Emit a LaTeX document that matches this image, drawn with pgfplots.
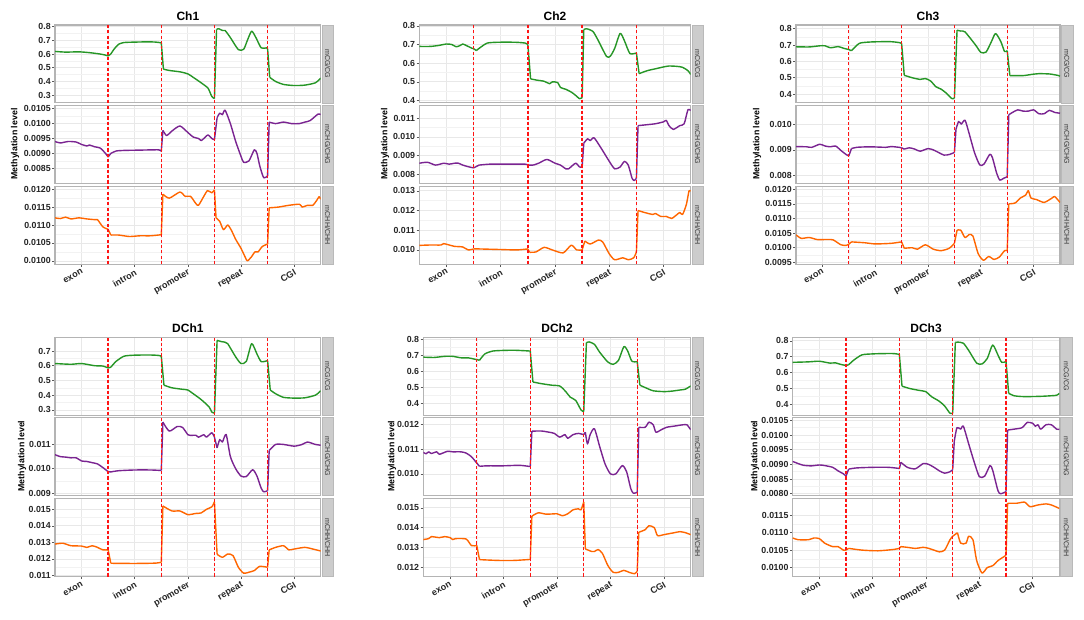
\documentclass[border=0pt]{standalone}
\usepackage{fontspec}
\setmainfont{Liberation Sans}
\usepackage{pgfplots}
\pgfplotsset{compat=1.18}
\definecolor{cg}{RGB}{38,150,38}
\definecolor{chg}{RGB}{122,36,145}
\definecolor{chh}{RGB}{255,102,0}
\definecolor{rd}{RGB}{255,20,20}
\definecolor{stripfill}{RGB}{204,204,204}
\definecolor{stripdraw}{RGB}{185,185,185}
\definecolor{frame}{RGB}{180,180,180}
\tikzset{vl/.style={rd, line width=1pt, dash pattern=on 2.4pt off 1.6pt}}
\pgfplotsset{
 fac/.style={scale only axis, anchor=north west, height=58.35pt,
   xmin=0,xmax=5, xtick={0.5,1.5,2.5,3.5,4.5}, minor xtick={1,2,3,4}, xticklabels={},
   scaled y ticks=false, scaled x ticks=false,
   minor y tick num=1, grid=both,
   major grid style={black!9, line width=0.55pt},
   minor grid style={black!5, line width=0.4pt},
   axis line style={frame, line width=0.9pt},
   tick align=outside, tick pos=left, major tick length=2pt, minor tick length=0pt,
   every tick/.style={black!65, line width=0.5pt},
   yticklabel style={font=\fontsize{6.6}{7}\selectfont\bfseries, text=black!85, inner sep=1pt},
   xtick style={draw=none},
 },
 bot/.style={xticklabels={exon,intron,promoter,repeat,CGI}, xtick style={draw=black!65},
   xticklabel style={rotate=30, anchor=north east, inner sep=1pt, font=\fontsize{6.8}{7}\selectfont\bfseries, text=black!85}},
}
\newcommand{\facet}[9]{%
  \begin{axis}[fac,#1,name=cur,ymin=#2,ymax=#3,ytick={#4},yticklabels={#5}]
    \addplot[#6,line width=1.05pt,line join=round,smooth,tension=0.4,unbounded coords=jump] coordinates {#7};
    \addplot[#6,line width=1.05pt,line join=round,unbounded coords=jump] coordinates {#9};
    \draw[vl] (rel axis cs:0.2,0) -- (rel axis cs:0.2,1);
    \draw[vl] (rel axis cs:0.4,0) -- (rel axis cs:0.4,1);
    \draw[vl] (rel axis cs:0.6,0) -- (rel axis cs:0.6,1);
    \draw[vl] (rel axis cs:0.8,0) -- (rel axis cs:0.8,1);
  \end{axis}
  \filldraw[fill=stripfill,draw=stripdraw,line width=0.4pt] ([xshift=0.9pt]cur.north east) rectangle ([xshift=9.6pt]cur.south east);
  \node[rotate=-90,font=\fontsize{5.3}{6}\selectfont,text=black!80,inner sep=0pt] at ([xshift=5.25pt]cur.east) {#8};
}
\begin{document}
\begin{tikzpicture}
\path[use as bounding box] (0,0) rectangle (813pt,-465pt);
\fill[white] (0,0) rectangle (813pt,-465pt);
% ---------------- Ch1 ----------------
\facet{at={(41.25pt,-18.75pt)},width=199.3pt}{0.244}{0.812}{0.3,0.4,0.5,0.6,0.7,0.8}{0.3,0.4,0.5,0.6,0.7,0.8}{cg}{
(0,0.619)(0.2,0.614)(0.45,0.616)(0.65,0.61)(0.85,0.6)(0.95,0.592)(1.0,0.586)(1.02,nan)
(1.05,0.6)(1.12,0.64)(1.2,0.672)(1.3,0.684)(1.5,0.687)(1.75,0.689)(1.9,0.687)(2.0,0.682)(2.02,nan)
(2.04,0.49)(2.15,0.48)(2.35,0.47)(2.5,0.455)(2.6,0.43)(2.75,0.39)(2.88,0.35)(2.95,0.29)(3.0,0.275)(3.02,nan)
(3.04,0.78)(3.08,0.785)(3.15,0.772)(3.2,0.772)(3.3,0.72)(3.45,0.632)(3.55,0.635)(3.62,0.7)(3.7,0.767)(3.78,0.72)(3.88,0.645)(3.98,0.645)(4.0,0.64)(4.02,nan)
(4.04,0.43)(4.15,0.4)(4.3,0.378)(4.5,0.37)(4.7,0.373)(4.9,0.39)(5.0,0.425)}{mCG/CG}{
(1.0,0.586)(1.05,0.6)(1.5,nan)(2.0,0.682)(2.04,0.49)(2.5,nan)(3.0,0.275)(3.04,0.78)(3.5,nan)(4.0,0.64)(4.04,0.43)}
\facet{at={(41.25pt,-79.28pt)},width=199.3pt}{0.00799}{0.0106}{0.0085,0.009,0.0095,0.01,0.0105}{0.0085,0.0090,0.0095,0.0100,0.0105}{chg}{
(0,0.0094)(0.1,0.00935)(0.25,0.0094)(0.4,0.00938)(0.5,0.0093)(0.6,0.00925)(0.65,0.00928)(0.75,0.00922)(0.85,0.00918)(0.95,0.009)(1.0,0.00888)(1.02,nan)
(1.05,0.009)(1.15,0.00908)(1.3,0.0091)(1.6,0.00911)(1.95,0.00912)(2.0,0.00907)(2.02,nan)
(2.03,0.00977)(2.1,0.0096)(2.2,0.00975)(2.35,0.00992)(2.5,0.0097)(2.6,0.00955)(2.7,0.0095)(2.75,0.00943)(2.8,0.0095)(2.88,0.00962)(2.95,0.0095)(3.0,0.00946)(3.02,nan)
(3.05,0.0102)(3.1,0.01035)(3.15,0.0103)(3.2,0.01045)(3.3,0.01)(3.4,0.0094)(3.5,0.0089)(3.55,0.0087)(3.65,0.00875)(3.75,0.00912)(3.8,0.009)(3.85,0.0086)(3.9,0.0083)(3.93,0.00818)(3.97,0.0082)(4.0,0.00825)(4.02,nan)
(4.03,0.01005)(4.15,0.01)(4.3,0.01005)(4.45,0.01)(4.6,0.01)(4.7,0.01005)(4.8,0.0101)(4.95,0.01032)(5.0,0.0103)}{mCHG/CHG}{
(1.0,0.00888)(1.05,0.009)(1.5,nan)(2.0,0.00907)(2.03,0.00977)(2.5,nan)(3.0,0.00946)(3.05,0.0102)(3.5,nan)(4.0,0.00825)(4.03,0.01005)}
\facet{at={(41.25pt,-139.73pt)},width=199.3pt,bot}{0.00991}{0.01208}{0.01,0.0105,0.011,0.0115,0.012}{0.0100,0.0105,0.0110,0.0115,0.0120}{chh}{
(0,0.0112)(0.1,0.01118)(0.2,0.01122)(0.3,0.01117)(0.45,0.0112)(0.6,0.01117)(0.75,0.01115)(0.8,0.01115)(0.9,0.01095)(1.0,0.01088)(1.02,nan)
(1.05,0.01072)(1.2,0.01072)(1.4,0.01068)(1.6,0.0107)(1.8,0.0107)(2.0,0.01073)(2.02,nan)
(2.03,0.01186)(2.15,0.01175)(2.35,0.01192)(2.45,0.0118)(2.55,0.0118)(2.65,0.0116)(2.7,0.01155)(2.8,0.0118)(2.87,0.01196)(2.95,0.0119)(3.0,0.01198)(3.02,nan)
(3.03,0.0112)(3.1,0.0111)(3.17,0.01087)(3.25,0.011)(3.32,0.01085)(3.4,0.0106)(3.5,0.01035)(3.58,0.0101)(3.62,0.01)(3.7,0.01012)(3.76,0.01025)(3.82,0.01025)(3.9,0.0104)(4.0,0.01047)(4.02,nan)
(4.03,0.01148)(4.2,0.0115)(4.4,0.01155)(4.6,0.01158)(4.65,0.0115)(4.75,0.01155)(4.85,0.01155)(4.93,0.0117)(4.97,0.01179)(5.0,0.01172)}{mCHH/CHH}{
(1.0,0.01088)(1.05,0.01072)(1.5,nan)(2.0,0.01073)(2.03,0.01186)(2.5,nan)(3.0,0.01198)(3.03,0.0112)(3.5,nan)(4.0,0.01047)(4.03,0.01148)}
% ---------------- Ch2 ----------------
\facet{at={(314.5pt,-18.75pt)},width=203.5pt}{0.3876}{0.805}{0.4,0.5,0.6,0.7,0.8}{0.4,0.5,0.6,0.7,0.8}{cg}{
(0,0.69)(0.2,0.69)(0.35,0.695)(0.5,0.703)(0.6,0.7)(0.68,0.688)(0.75,0.695)(0.8,0.703)(0.9,0.69)(0.97,0.68)(1.0,0.678)(1.02,nan)
(1.05,0.668)(1.15,0.69)(1.25,0.708)(1.4,0.712)(1.6,0.713)(1.8,0.712)(1.95,0.708)(2.0,0.7)(2.02,nan)
(2.05,0.516)(2.15,0.51)(2.3,0.503)(2.4,0.49)(2.45,0.5)(2.55,0.496)(2.6,0.47)(2.7,0.46)(2.8,0.445)(2.87,0.43)(2.95,0.41)(3.0,0.415)(3.02,nan)
(3.03,0.78)(3.08,0.785)(3.2,0.77)(3.3,0.72)(3.45,0.636)(3.52,0.638)(3.6,0.68)(3.7,0.76)(3.78,0.72)(3.88,0.652)(4.0,0.655)(4.02,nan)
(4.05,0.544)(4.2,0.56)(4.35,0.57)(4.5,0.58)(4.6,0.585)(4.75,0.583)(4.85,0.578)(4.95,0.56)(5.0,0.54)}{mCG/CG}{
(1.0,0.678)(1.05,0.668)(1.5,nan)(2.0,0.7)(2.05,0.516)(2.5,nan)(3.0,0.415)(3.03,0.78)(3.5,nan)(4.0,0.655)(4.05,0.544)}
\facet{at={(314.5pt,-79.28pt)},width=203.5pt}{0.00752}{0.01166}{0.008,0.009,0.01,0.011}{0.008,0.009,0.010,0.011}{chg}{
(0,0.0086)(0.15,0.00865)(0.3,0.0085)(0.45,0.0086)(0.55,0.00855)(0.65,0.0086)(0.72,0.0086)(0.8,0.0085)(0.92,0.0084)(1.0,0.00835)(1.02,nan)
(1.1,0.0085)(1.3,0.00855)(1.6,0.00855)(1.95,0.00855)(2.0,0.0085)(2.02,nan)
(2.1,0.0085)(2.2,0.0086)(2.35,0.0088)(2.5,0.0086)(2.6,0.0085)(2.7,0.0083)(2.75,0.0083)(2.88,0.0086)(2.95,0.0084)(3.0,0.0084)(3.02,nan)
(3.03,0.00966)(3.1,0.0099)(3.15,0.0098)(3.22,0.00995)(3.35,0.0094)(3.5,0.0087)(3.6,0.0083)(3.7,0.0084)(3.78,0.0087)(3.85,0.0085)(3.92,0.0078)(3.96,0.00768)(4.0,0.0078)(4.02,nan)
(4.03,0.0106)(4.2,0.01065)(4.35,0.0107)(4.5,0.0108)(4.55,0.01088)(4.6,0.0106)(4.68,0.0104)(4.8,0.0106)(4.88,0.0107)(4.95,0.01145)(5.0,0.0114)}{mCHG/CHG}{
(1.0,0.00835)(1.1,0.0085)(1.5,nan)(2.0,0.0085)(2.1,0.0085)(2.5,nan)(3.0,0.0084)(3.03,0.00966)(3.5,nan)(4.0,0.0078)(4.03,0.0106)}
\facet{at={(314.5pt,-139.73pt)},width=203.5pt,bot}{0.00928}{0.01323}{0.01,0.011,0.012,0.013}{0.010,0.011,0.012,0.013}{chh}{
(0,0.01023)(0.2,0.01025)(0.4,0.01025)(0.45,0.01032)(0.55,0.01025)(0.65,0.01018)(0.8,0.01015)(0.9,0.01)(1.0,0.01005)(1.02,nan)
(1.1,0.01005)(1.5,0.01002)(1.8,0.01)(2.0,0.01005)(2.02,nan)
(2.03,0.00988)(2.15,0.0099)(2.3,0.01013)(2.45,0.01)(2.65,0.00985)(2.8,0.01024)(2.9,0.01)(3.0,0.01)(3.02,nan)
(3.05,0.01045)(3.15,0.0103)(3.3,0.0105)(3.38,0.0104)(3.5,0.0098)(3.6,0.0095)(3.75,0.0096)(3.85,0.0095)(3.95,0.0096)(4.0,0.0099)(4.02,nan)
(4.03,0.012)(4.15,0.0119)(4.3,0.0118)(4.35,0.01185)(4.45,0.0117)(4.55,0.0117)(4.65,0.0116)(4.75,0.0118)(4.8,0.0119)(4.85,0.0118)(4.92,0.0123)(4.97,0.013)(5.0,0.01298)}{mCHH/CHH}{
(1.0,0.01005)(1.1,0.01005)(1.5,nan)(2.0,0.01005)(2.03,0.00988)(2.5,nan)(3.0,0.01)(3.05,0.01045)(3.5,nan)(4.0,0.0099)(4.03,0.012)}
% ---------------- Ch3 ----------------
\facet{at={(597pt,-18.75pt)},width=198pt}{0.347}{0.822}{0.4,0.5,0.6,0.7,0.8}{0.4,0.5,0.6,0.7,0.8}{cg}{
(0,0.689)(0.25,0.688)(0.45,0.695)(0.55,0.695)(0.65,0.683)(0.8,0.69)(0.9,0.68)(1.0,0.672)(1.02,nan)
(1.05,0.665)(1.2,0.71)(1.4,0.718)(1.6,0.72)(1.8,0.72)(1.95,0.715)(2.0,0.71)(2.02,nan)
(2.05,0.515)(2.2,0.5)(2.35,0.49)(2.45,0.495)(2.55,0.48)(2.65,0.445)(2.75,0.43)(2.85,0.405)(2.95,0.373)(3.0,0.375)(3.02,nan)
(3.05,0.79)(3.12,0.785)(3.2,0.78)(3.4,0.7)(3.5,0.655)(3.6,0.657)(3.7,0.72)(3.78,0.77)(3.88,0.72)(3.95,0.66)(4.0,0.665)(4.02,nan)
(4.05,0.513)(4.3,0.513)(4.5,0.522)(4.6,0.525)(4.8,0.523)(4.95,0.515)(5.0,0.51)}{mCG/CG}{
(1.0,0.672)(1.05,0.665)(1.5,nan)(2.0,0.71)(2.05,0.515)(2.5,nan)(3.0,0.375)(3.05,0.79)(3.5,nan)(4.0,0.665)(4.05,0.513)}
\facet{at={(597pt,-79.28pt)},width=198pt}{0.0077}{0.01071}{0.008,0.009,0.01}{0.008,0.009,0.010}{chg}{
(0,0.00913)(0.2,0.00912)(0.3,0.0091)(0.45,0.00922)(0.55,0.00915)(0.65,0.00912)(0.75,0.00915)(0.85,0.00898)(0.95,0.00882)(1.0,0.00877)(1.02,nan)
(1.05,0.00905)(1.15,0.0091)(1.4,0.00912)(1.7,0.0091)(1.8,0.00913)(1.95,0.0091)(2.0,0.00908)(2.02,nan)
(2.05,0.00903)(2.15,0.00908)(2.25,0.00903)(2.35,0.00895)(2.5,0.00905)(2.6,0.009)(2.7,0.0089)(2.8,0.0088)(2.9,0.00882)(3.0,0.0089)(3.02,nan)
(3.03,0.0098)(3.08,0.0101)(3.13,0.01)(3.2,0.01015)(3.27,0.0097)(3.38,0.0089)(3.48,0.00842)(3.56,0.00845)(3.67,0.00883)(3.72,0.0087)(3.8,0.0081)(3.86,0.00783)(3.93,0.0079)(4.0,0.00796)(4.02,nan)
(4.03,0.01036)(4.1,0.01045)(4.2,0.01055)(4.3,0.0105)(4.4,0.0105)(4.5,0.01055)(4.6,0.0104)(4.7,0.0104)(4.8,0.01053)(4.9,0.01045)(5.0,0.01042)}{mCHG/CHG}{
(1.0,0.00877)(1.05,0.00905)(1.5,nan)(2.0,0.00908)(2.05,0.00903)(2.5,nan)(3.0,0.0089)(3.03,0.0098)(3.5,nan)(4.0,0.00796)(4.03,0.01036)}
\facet{at={(597pt,-139.73pt)},width=198pt,bot}{0.00944}{0.0121}{0.0095,0.01,0.0105,0.011,0.0115,0.012}{0.0095,0.0100,0.0105,0.0110,0.0115,0.0120}{chh}{
(0,0.01044)(0.1,0.01032)(0.25,0.01035)(0.4,0.01028)(0.55,0.01028)(0.7,0.01027)(0.85,0.0101)(0.95,0.01008)(1.0,0.01012)(1.02,nan)
(1.05,0.0102)(1.3,0.01017)(1.5,0.01013)(1.8,0.01015)(2.0,0.0102)(2.02,nan)
(2.05,0.00998)(2.2,0.01)(2.3,0.00995)(2.45,0.0101)(2.6,0.00995)(2.75,0.0099)(2.9,0.00998)(3.0,0.01015)(3.02,nan)
(3.05,0.0106)(3.12,0.0106)(3.2,0.01035)(3.28,0.01045)(3.35,0.0104)(3.45,0.0098)(3.55,0.00957)(3.65,0.0097)(3.75,0.0096)(3.85,0.00968)(3.95,0.0099)(4.0,0.0099)(4.02,nan)
(4.03,0.0115)(4.15,0.01153)(4.25,0.0117)(4.35,0.0118)(4.4,0.01195)(4.45,0.0117)(4.55,0.01165)(4.7,0.01155)(4.85,0.0117)(4.9,0.01175)(5.0,0.01155)}{mCHH/CHH}{
(1.0,0.01012)(1.05,0.0102)(1.5,nan)(2.0,0.0102)(2.05,0.00998)(2.5,nan)(3.0,0.01015)(3.05,0.0106)(3.5,nan)(4.0,0.0099)(4.03,0.0115)}
% ---------------- DCh1 ----------------
\facet{at={(41.25pt,-253.13pt)},width=199.3pt}{0.263}{0.792}{0.3,0.4,0.5,0.6,0.7}{0.3,0.4,0.5,0.6,0.7}{cg}{
(0,0.615)(0.3,0.61)(0.5,0.615)(0.75,0.6)(0.9,0.598)(1.0,0.585)(1.02,nan)
(1.05,0.59)(1.15,0.63)(1.3,0.665)(1.5,0.672)(1.8,0.673)(1.95,0.67)(2.0,0.665)(2.02,nan)
(2.05,0.468)(2.2,0.45)(2.4,0.44)(2.5,0.435)(2.6,0.41)(2.75,0.37)(2.9,0.32)(2.95,0.285)(3.0,0.278)(3.02,nan)
(3.05,0.773)(3.12,0.765)(3.2,0.76)(3.25,0.75)(3.4,0.66)(3.5,0.615)(3.6,0.63)(3.7,0.75)(3.8,0.68)(3.88,0.628)(4.0,0.635)(4.02,nan)
(4.05,0.435)(4.15,0.41)(4.3,0.385)(4.5,0.38)(4.7,0.382)(4.9,0.4)(5.0,0.43)}{mCG/CG}{
(1.0,0.585)(1.05,0.59)(1.5,nan)(2.0,0.665)(2.05,0.468)(2.5,nan)(3.0,0.278)(3.05,0.773)(3.5,nan)(4.0,0.635)(4.05,0.435)}
\facet{at={(41.25pt,-313.28pt)},width=199.3pt}{0.0089}{0.0121}{0.009,0.01,0.011}{0.009,0.010,0.011}{chg}{
(0,0.01058)(0.1,0.0105)(0.2,0.01048)(0.3,0.01045)(0.4,0.01045)(0.5,0.01032)(0.6,0.0103)(0.7,0.01025)(0.8,0.0102)(0.9,0.01005)(1.0,0.00988)(1.02,nan)
(1.05,0.00987)(1.2,0.00992)(1.5,0.00995)(1.8,0.00995)(2.0,0.00993)(2.02,nan)
(2.03,0.01192)(2.15,0.01155)(2.3,0.01174)(2.4,0.0117)(2.5,0.0114)(2.55,0.01137)(2.65,0.01138)(2.7,0.0113)(2.8,0.0114)(2.85,0.0113)(2.95,0.01148)(3.0,0.0113)(3.02,nan)
(3.05,0.01086)(3.1,0.0112)(3.15,0.0111)(3.22,0.01141)(3.3,0.0105)(3.4,0.01)(3.5,0.0097)(3.6,0.00968)(3.72,0.00996)(3.8,0.0097)(3.88,0.0092)(3.93,0.00905)(4.0,0.0091)(4.02,nan)
(4.03,0.01075)(4.15,0.011)(4.3,0.011)(4.5,0.01093)(4.65,0.011)(4.75,0.0111)(4.9,0.011)(5.0,0.01097)}{mCHG/CHG}{
(1.0,0.00988)(1.05,0.00987)(1.5,nan)(2.0,0.00993)(2.03,0.01192)(2.5,nan)(3.0,0.0113)(3.05,0.01086)(3.5,nan)(4.0,0.0091)(4.03,0.01075)}
\facet{at={(41.25pt,-374.03pt)},width=199.3pt,bot}{0.01094}{0.01564}{0.011,0.012,0.013,0.014,0.015}{0.011,0.012,0.013,0.014,0.015}{chh}{
(0,0.0129)(0.15,0.01295)(0.3,0.0128)(0.5,0.01278)(0.6,0.0127)(0.7,0.0128)(0.8,0.0127)(0.9,0.01255)(1.0,0.01255)(1.02,nan)
(1.05,0.01174)(1.3,0.01173)(1.6,0.01173)(1.9,0.01175)(2.0,0.0118)(2.02,nan)
(2.03,0.0152)(2.2,0.0149)(2.35,0.0149)(2.5,0.01468)(2.65,0.01475)(2.75,0.01478)(2.85,0.015)(2.95,0.01515)(3.0,0.01545)(3.02,nan)
(3.05,0.01228)(3.15,0.0121)(3.25,0.0123)(3.35,0.0122)(3.45,0.0115)(3.55,0.01114)(3.65,0.0112)(3.75,0.0113)(3.85,0.01155)(4.0,0.0115)(4.02,nan)
(4.03,0.01255)(4.15,0.0127)(4.3,0.0128)(4.4,0.01255)(4.5,0.0126)(4.7,0.0127)(4.85,0.0126)(5.0,0.01248)}{mCHH/CHH}{
(1.0,0.01255)(1.05,0.01174)(1.5,nan)(2.0,0.0118)(2.03,0.0152)(2.5,nan)(3.0,0.01545)(3.05,0.01228)(3.5,nan)(4.0,0.0115)(4.03,0.01255)}
% ---------------- DCh2 ----------------
\facet{at={(317.5pt,-253.13pt)},width=200.5pt}{0.327}{0.8125}{0.4,0.5,0.6,0.7,0.8}{0.4,0.5,0.6,0.7,0.8}{cg}{
(0,0.69)(0.2,0.688)(0.4,0.695)(0.55,0.695)(0.7,0.686)(0.85,0.685)(0.95,0.678)(1.0,0.675)(1.02,nan)
(1.05,0.67)(1.15,0.71)(1.3,0.728)(1.5,0.732)(1.7,0.733)(1.9,0.73)(2.0,0.728)(2.02,nan)
(2.05,0.535)(2.2,0.525)(2.4,0.515)(2.55,0.51)(2.65,0.48)(2.75,0.44)(2.85,0.42)(2.95,0.36)(3.0,0.35)(3.02,nan)
(3.05,0.78)(3.1,0.785)(3.2,0.77)(3.3,0.72)(3.45,0.66)(3.55,0.645)(3.65,0.67)(3.75,0.755)(3.82,0.73)(3.9,0.665)(4.0,0.662)(4.02,nan)
(4.05,0.515)(4.15,0.5)(4.3,0.48)(4.5,0.475)(4.65,0.478)(4.8,0.485)(4.9,0.49)(5.0,0.51)}{mCG/CG}{
(1.0,0.675)(1.05,0.67)(1.5,nan)(2.0,0.728)(2.05,0.535)(2.5,nan)(3.0,0.35)(3.05,0.78)(3.5,nan)(4.0,0.662)(4.05,0.515)}
\facet{at={(317.5pt,-313.28pt)},width=200.5pt}{0.00912}{0.01229}{0.01,0.011,0.012}{0.010,0.011,0.012}{chg}{
(0,0.01088)(0.05,0.01082)(0.1,0.0109)(0.15,0.01083)(0.25,0.0109)(0.3,0.0108)(0.45,0.01092)(0.55,0.0109)(0.7,0.0109)(0.8,0.01085)(0.9,0.0107)(1.0,0.01044)(1.02,nan)
(1.05,0.01031)(1.2,0.01033)(1.5,0.01033)(1.8,0.01035)(2.0,0.0103)(2.02,nan)
(2.03,0.01174)(2.2,0.01175)(2.35,0.0117)(2.45,0.01165)(2.55,0.0115)(2.65,0.0116)(2.7,0.01145)(2.8,0.0116)(2.9,0.01165)(3.0,0.0116)(3.02,nan)
(3.03,0.0117)(3.07,0.01122)(3.12,0.0116)(3.2,0.01184)(3.3,0.0111)(3.4,0.0104)(3.5,0.01)(3.6,0.01)(3.72,0.01034)(3.8,0.0101)(3.88,0.0094)(3.93,0.00921)(4.0,0.00925)(4.02,nan)
(4.03,0.0119)(4.15,0.0119)(4.22,0.01211)(4.3,0.012)(4.35,0.0117)(4.45,0.0118)(4.55,0.0119)(4.7,0.01195)(4.85,0.012)(4.93,0.012)(5.0,0.0118)}{mCHG/CHG}{
(1.0,0.01044)(1.05,0.01031)(1.5,nan)(2.0,0.0103)(2.03,0.01174)(2.5,nan)(3.0,0.0116)(3.03,0.0117)(3.5,nan)(4.0,0.00925)(4.03,0.0119)}
\facet{at={(317.5pt,-374.03pt)},width=200.5pt,bot}{0.01154}{0.01546}{0.012,0.013,0.014,0.015}{0.012,0.013,0.014,0.015}{chh}{
(0,0.0134)(0.1,0.01345)(0.15,0.01355)(0.3,0.0135)(0.4,0.01355)(0.5,0.0135)(0.55,0.0134)(0.6,0.01345)(0.8,0.01343)(0.9,0.0131)(1.0,0.0131)(1.02,nan)
(1.05,0.01239)(1.4,0.01235)(1.7,0.01235)(2.0,0.0124)(2.02,nan)
(2.03,0.01458)(2.15,0.01475)(2.3,0.01468)(2.5,0.0147)(2.6,0.0146)(2.7,0.0147)(2.8,0.0149)(2.9,0.01495)(2.95,0.0149)(3.0,0.0153)(3.02,nan)
(3.03,0.01293)(3.15,0.0128)(3.2,0.0128)(3.27,0.0129)(3.35,0.0127)(3.45,0.0121)(3.55,0.01175)(3.65,0.01175)(3.75,0.01185)(3.85,0.01175)(3.95,0.01168)(4.0,0.0118)(4.02,nan)
(4.03,0.01377)(4.15,0.0139)(4.22,0.0141)(4.32,0.014)(4.38,0.0136)(4.5,0.01365)(4.6,0.0137)(4.7,0.01375)(4.8,0.0138)(4.9,0.01375)(5.0,0.01365)}{mCHH/CHH}{
(1.0,0.0131)(1.05,0.01239)(1.5,nan)(2.0,0.0124)(2.03,0.01458)(2.5,nan)(3.0,0.0153)(3.03,0.01293)(3.5,nan)(4.0,0.0118)(4.03,0.01377)}
% ---------------- DCh3 ----------------
\facet{at={(594.5pt,-253.13pt)},width=200pt}{0.332}{0.821}{0.4,0.5,0.6,0.7,0.8}{0.4,0.5,0.6,0.7,0.8}{cg}{
(0,0.665)(0.3,0.668)(0.5,0.672)(0.7,0.66)(0.8,0.662)(0.9,0.652)(1.0,0.645)(1.02,nan)
(1.05,0.65)(1.15,0.68)(1.3,0.712)(1.5,0.718)(1.7,0.72)(1.9,0.72)(2.0,0.715)(2.02,nan)
(2.05,0.515)(2.2,0.5)(2.35,0.49)(2.5,0.48)(2.6,0.45)(2.75,0.42)(2.85,0.39)(2.95,0.345)(3.0,0.345)(3.02,nan)
(3.05,0.79)(3.1,0.792)(3.2,0.785)(3.3,0.74)(3.45,0.66)(3.55,0.655)(3.65,0.69)(3.75,0.774)(3.85,0.71)(3.92,0.665)(4.0,0.67)(4.02,nan)
(4.05,0.47)(4.15,0.455)(4.3,0.45)(4.5,0.45)(4.7,0.452)(4.85,0.455)(4.95,0.458)(5.0,0.47)}{mCG/CG}{
(1.0,0.645)(1.05,0.65)(1.5,nan)(2.0,0.715)(2.05,0.515)(2.5,nan)(3.0,0.345)(3.05,0.79)(3.5,nan)(4.0,0.67)(4.05,0.47)}
\facet{at={(594.5pt,-313.28pt)},width=200pt}{0.00794}{0.01059}{0.008,0.0085,0.009,0.0095,0.01,0.0105}{0.0080,0.0085,0.0090,0.0095,0.0100,0.0105}{chg}{
(0,0.0091)(0.1,0.00903)(0.2,0.00897)(0.35,0.00895)(0.5,0.00898)(0.6,0.00896)(0.75,0.0089)(0.85,0.00878)(0.95,0.00868)(1.0,0.0086)(1.02,nan)
(1.05,0.00884)(1.2,0.00888)(1.5,0.0089)(1.8,0.0089)(2.0,0.00886)(2.02,nan)
(2.03,0.00907)(2.15,0.0089)(2.3,0.00885)(2.45,0.00903)(2.55,0.009)(2.65,0.0089)(2.75,0.00878)(2.85,0.0087)(2.95,0.00875)(3.0,0.00882)(3.02,nan)
(3.03,0.00979)(3.08,0.01025)(3.15,0.0102)(3.2,0.0103)(3.3,0.0097)(3.4,0.0091)(3.5,0.00858)(3.6,0.0086)(3.7,0.00896)(3.75,0.0088)(3.85,0.0081)(3.9,0.008)(4.0,0.00807)(4.02,nan)
(4.03,0.01017)(4.15,0.0102)(4.3,0.01025)(4.4,0.01043)(4.5,0.0104)(4.55,0.0103)(4.6,0.01035)(4.65,0.0102)(4.75,0.01035)(4.85,0.01035)(4.95,0.0102)(5.0,0.0102)}{mCHG/CHG}{
(1.0,0.0086)(1.05,0.00884)(1.5,nan)(2.0,0.00886)(2.03,0.00907)(2.5,nan)(3.0,0.00882)(3.03,0.00979)(3.5,nan)(4.0,0.00807)(4.03,0.01017)}
\facet{at={(594.5pt,-374.03pt)},width=200pt,bot}{0.00974}{0.01198}{0.01,0.0105,0.011,0.0115}{0.0100,0.0105,0.0110,0.0115}{chh}{
(0,0.01085)(0.1,0.0108)(0.3,0.0108)(0.4,0.01085)(0.5,0.01083)(0.6,0.0107)(0.75,0.0106)(0.85,0.0106)(0.95,0.0105)(1.0,0.0105)(1.02,nan)
(1.05,0.01055)(1.3,0.0105)(1.6,0.01048)(1.9,0.01052)(2.0,0.01055)(2.02,nan)
(2.03,0.0106)(2.15,0.01058)(2.3,0.01055)(2.45,0.01058)(2.55,0.01055)(2.65,0.0105)(2.75,0.01045)(2.85,0.0105)(2.95,0.0108)(3.0,0.0109)(3.02,nan)
(3.09,0.011)(3.15,0.0107)(3.25,0.0107)(3.3,0.0109)(3.38,0.0108)(3.45,0.0102)(3.55,0.00984)(3.65,0.01)(3.75,0.01005)(3.85,0.0102)(3.95,0.0103)(4.0,0.01035)(4.02,nan)
(4.03,0.01185)(4.2,0.01185)(4.35,0.01188)(4.45,0.01175)(4.6,0.0118)(4.75,0.01183)(4.85,0.0118)(5.0,0.0117)}{mCHH/CHH}{
(1.0,0.0105)(1.05,0.01055)(1.5,nan)(2.0,0.01055)(2.03,0.0106)(2.5,nan)(3.0,0.0109)(3.09,0.011)(3.5,nan)(4.0,0.01035)(4.03,0.01185)}
% ---------------- titles and labels ----------------
\begin{scope}[every node/.style={font=\fontsize{9}{10}\selectfont\bfseries}]
\node at (140.9pt,-12pt) {Ch1};
\node at (416.25pt,-12pt) {Ch2};
\node at (696pt,-12pt) {Ch3};
\node at (140.9pt,-246pt) {DCh1};
\node at (417.75pt,-246pt) {DCh2};
\node at (694.5pt,-246pt) {DCh3};
\end{scope}
\begin{scope}[every node/.style={font=\fontsize{6.6}{7}\selectfont\bfseries, rotate=90}]
\node at (11.25pt,-108pt) {Methylation level};
\node at (288.75pt,-108pt) {Methylation level};
\node at (567.75pt,-108pt) {Methylation level};
\node at (16.5pt,-342pt) {Methylation level};
\node at (294pt,-342pt) {Methylation level};
\node at (566.25pt,-342pt) {Methylation level};
\end{scope}
\end{tikzpicture}
\end{document}
